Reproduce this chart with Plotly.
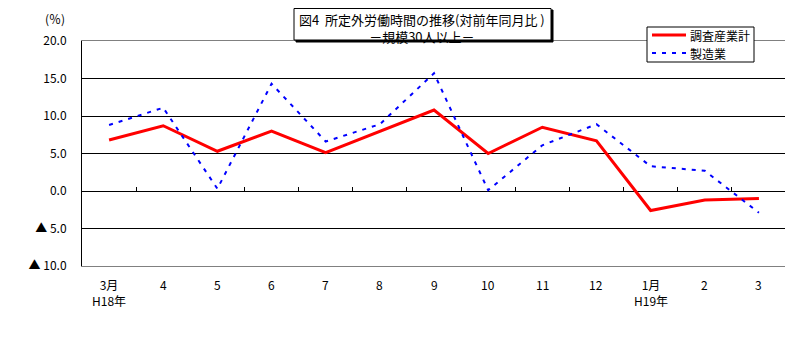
import plotly.graph_objects as go

months = ["3月", "4", "5", "6", "7", "8", "9", "10", "11", "12", "1月", "2", "3"]
years = ["H18年", "", "", "", "", "", "", "", "", "", "H19年", "", ""]
all_industries = [6.8, 8.7, 5.3, 8.0, 5.1, 7.9, 10.8, 5.0, 8.5, 6.7, -2.6, -1.2, -1.0]
manufacturing = [8.8, 11.1, 0.3, 14.3, 6.6, 8.9, 15.7, 0.1, 6.1, 8.9, 3.3, 2.7, -2.9]
ytick_vals = [20, 15, 10, 5, 0, -5, -10]
ytick_text = ["20.0", "15.0", "10.0", "5.0", "0.0", "▲ 5.0", "▲ 10.0"]
series_names = ["調査産業計", "製造業"]
title_lines = ["図4  所定外労働時間の推移(対前年同月比 )", "－規模30人以上－"]

FONT = "Noto Sans CJK JP"
x = list(range(len(months)))

OFF = 8  # page body margin in the browser
FW, FH = 793 - OFF, 360 - OFF
# plot area in screen pixels
L, R, T, B = 82, 786, 41, 266
W, H = R - L, B - T


def px_x(p):
    return (p - L) / W


def px_y(p):
    return (B - p) / H


colors = ["#ff0000", "#0000ff"]
widths = [3, 2]
dashes = ["solid", "4px,6px"]

fig = go.Figure()
for vals, name, c, w, d in zip([all_industries, manufacturing], series_names, colors, widths, dashes):
    fig.add_trace(go.Scatter(x=x, y=vals, mode="lines", name=name,
                             line=dict(color=c, width=w, dash=d), showlegend=False))
fig.add_trace(go.Scatter(x=[None], y=[None], xaxis="x2", showlegend=False))

fig.update_layout(
    width=FW, height=FH,
    margin=dict(l=L - OFF, r=FW - (R - OFF), t=T - OFF, b=FH - (B - OFF), autoexpand=False),
    paper_bgcolor="white", plot_bgcolor="white",
    font=dict(family=FONT, size=12, color="black"),
    showlegend=False,
    xaxis=dict(range=[-0.5, 12.5], showgrid=False, zeroline=False,
               showline=True, linecolor="#808080", linewidth=1, mirror=True,
               showticklabels=False, ticks="", automargin=False),
    xaxis2=dict(range=[-0.5, 12.5], overlaying="x", anchor="free", position=1/3,
                showline=False, showgrid=False, zeroline=False,
                tickvals=[i + 0.5 for i in range(-1, len(months))],
                ticks="inside", ticklen=4, tickcolor="black", tickwidth=1,
                showticklabels=False, automargin=False),
    yaxis=dict(range=[-10, 20], tickvals=ytick_vals, ticktext=ytick_text,
               showgrid=True, gridcolor="black", gridwidth=1, zeroline=False,
               showline=True, linecolor="black", linewidth=1,
               ticks="", ticklabelstandoff=12, tickfont=dict(size=12),
               automargin=False),
)

# right border
fig.add_shape(type="line", xref="paper", yref="paper", x0=1, x1=1, y0=0, y1=1,
              line=dict(color="#808080", width=1))

# x tick labels
for i, (m, yr) in enumerate(zip(months, years)):
    fig.add_annotation(x=i, y=0, xref="x", yref="paper", yshift=-8,
                       xanchor="center", yanchor="top",
                       text=m + ("<br>" + yr if yr else ""), showarrow=False,
                       font=dict(family=FONT, size=12), align="center")

# unit label
fig.add_annotation(x=px_x(55), y=px_y(9), xref="paper", yref="paper", text="(％)",
                   xanchor="center", yanchor="top", borderpad=0,
                   showarrow=False, font=dict(family=FONT, size=12))

# title box with shadow
fig.add_shape(type="rect", xref="paper", yref="paper",
              x0=px_x(296), x1=px_x(553), y0=px_y(42), y1=px_y(10),
              fillcolor="black", line=dict(color="black", width=1))
fig.add_shape(type="rect", xref="paper", yref="paper",
              x0=px_x(294), x1=px_x(551), y0=px_y(40), y1=px_y(8.5),
              fillcolor="white", line=dict(color="black", width=1))
fig.add_annotation(x=px_x(422), y=px_y(9), xref="paper", yref="paper",
                   text="<br>".join(title_lines), showarrow=False,
                   xanchor="center", yanchor="top", align="center", borderpad=0,
                   font=dict(family=FONT, size=13))

# legend box (drawn manually)
fig.add_shape(type="rect", xref="paper", yref="paper",
              x0=px_x(647), x1=px_x(754), y0=px_y(62), y1=px_y(27),
              fillcolor="white", line=dict(color="black", width=1))
for name, c, w, d, yy in zip(series_names, colors, widths, dashes, [35, 53]):
    fig.add_shape(type="line", xref="paper", yref="paper",
                  x0=px_x(652), x1=px_x(686), y0=px_y(yy), y1=px_y(yy),
                  line=dict(color=c, width=w, dash=d))
    fig.add_annotation(x=px_x(688), y=px_y(yy), xref="paper", yref="paper",
                       text=name, showarrow=False, xanchor="left", yanchor="middle",
                       font=dict(family=FONT, size=12))

fig.write_html("out.html")
